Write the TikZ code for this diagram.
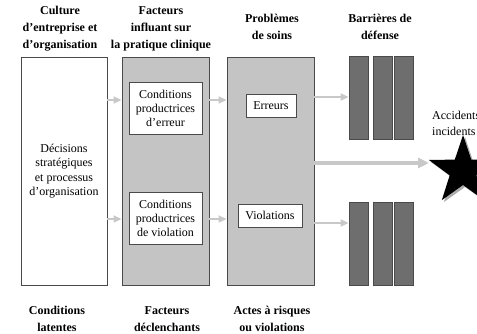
\documentclass[tikz,border=0pt]{standalone}
\usepackage{fontspec}
\setmainfont{Liberation Serif}
\usetikzlibrary{shapes.geometric,arrows.meta}
\definecolor{boxgrey}{HTML}{C4C4C4}
\definecolor{bargrey}{HTML}{6E6E6E}
\definecolor{edgegrey}{HTML}{4A4A4A}
\definecolor{arrgrey}{HTML}{C8C8C8}
\tikzset{
  whitebox/.style={draw=edgegrey, line width=0.9pt, fill=white, inner sep=0pt, align=center,
     font=\fontsize{12}{14.5}\selectfont},
  greybox/.style={draw=edgegrey, line width=0.9pt, fill=boxgrey, inner sep=0pt},
  innerbox/.style={draw=edgegrey, line width=0.9pt, fill=white, inner sep=0pt, align=center,
     font=\fontsize{12}{14}\selectfont},
  barbox/.style={draw=edgegrey, line width=0.8pt, fill=bargrey, inner sep=0pt,
     minimum width=19pt, minimum height=83pt},
  arr/.style={draw=arrgrey, line width=1.8pt, -{Triangle[length=8pt,width=7pt]}},
  bigarr/.style={draw=arrgrey, line width=3.5pt, -{Triangle[length=11pt,width=10pt]}},
  head/.style={font=\bfseries\fontsize{12}{17}\selectfont, align=center, inner sep=0pt},
  plain/.style={font=\fontsize{12}{16}\selectfont, align=left, inner sep=0pt},
  starpath/.style={},
}
\begin{document}
\begin{tikzpicture}[x=1pt,y=-1pt]
\useasboundingbox (0,0) rectangle (477,334);
% headers
\node[head] (h1) at (60,29) {Culture\\d'entreprise et\\d'organisation};
\node[head] (h2) at (161,29) {Facteurs\\influant sur\\la pratique clinique};
\node[head] (h3) at (272,27) {Problèmes\\de soins};
\node[head] (h4) at (380,27) {Barrières de\\défense};
% footers
\node[head] (f1) at (57,319) {Conditions\\latentes};
\node[head] (f2) at (167,319) {Facteurs\\déclenchants};
\node[head] (f3) at (272,319) {Actes à risques\\ou violations};
% main boxes
\node[whitebox, minimum width=86pt, minimum height=228pt] (b1) at (64,171)
  {Décisions\\stratégiques\\et processus\\d'organisation};
\node[greybox, minimum width=87pt, minimum height=228pt] (b2) at (165.5,171) {};
\node[greybox, minimum width=87pt, minimum height=228pt] (b3) at (270.5,171) {};
% inner boxes
\node[innerbox, minimum width=73pt, minimum height=52pt] (c1) at (165.5,108)
  {Conditions\\productrices\\d'erreur};
\node[innerbox, minimum width=73pt, minimum height=52pt] (c2) at (165.5,218)
  {Conditions\\productrices\\de violation};
\node[innerbox, minimum width=50pt, minimum height=23pt] (e1) at (271,105.5) {Erreurs};
\node[innerbox, minimum width=64pt, minimum height=23pt] (v1) at (270,215.5) {Violations};
% barriers
\node[barbox] (t1) at (358.5,97.5) {};
\node[barbox] (t2) at (382.5,97.5) {};
\node[barbox] (t3) at (403.5,97.5) {};
\node[barbox] (u1) at (358.5,243.5) {};
\node[barbox] (u2) at (382.5,243.5) {};
\node[barbox] (u3) at (403.5,243.5) {};
% star (drawn directly; y axis points down, so angles run clockwise)
\fill[black!40, opacity=0.8, shift={(465,173)}]
  (270:36) -- (306:14) -- (342:36) -- (18:14) -- (54:36) -- (90:14)
  -- (126:36) -- (162:14) -- (198:36) -- (234:14) -- cycle;
\fill[black, shift={(463,171)}]
  (270:36) -- (306:14) -- (342:36) -- (18:14) -- (54:36) -- (90:14)
  -- (126:36) -- (162:14) -- (198:36) -- (234:14) -- cycle;
\coordinate (st) at (429,163);
\node[plain, anchor=west] (acc) at (432,123) {Accidents\\incidents};
% arrows
\draw[arr] (b1.east |- 0,100) -- (b2.west |- 0,100);
\draw[arr] (b1.east |- 0,219) -- (b2.west |- 0,219);
\draw[arr] (b2.east |- 0,100) -- (b3.west |- 0,100);
\draw[arr] (b2.east |- 0,219) -- (b3.west |- 0,219);
\draw[arr] (b3.east |- 0,97) -- (t1.west |- 0,97);
\draw[arr] (b3.east |- 0,223) -- (u1.west |- 0,223);
\draw[bigarr] (b3.east |- 0,163) -- (st);
\end{tikzpicture}
\end{document}
